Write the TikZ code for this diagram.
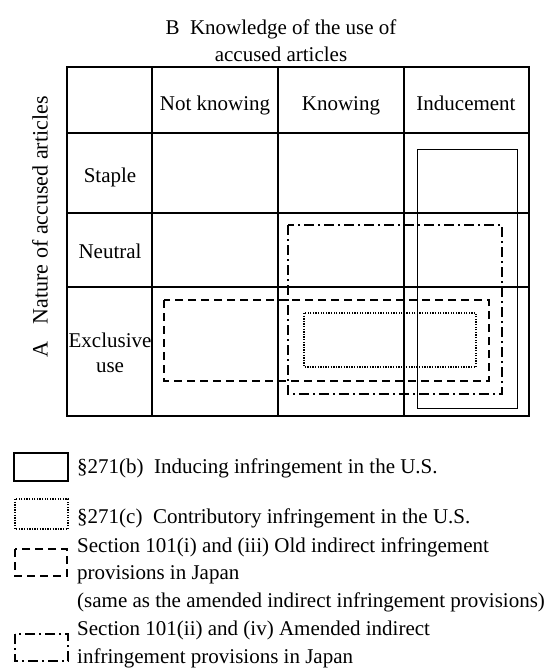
\documentclass[tikz,border=0pt]{standalone}
\usepackage{fontspec}
\setmainfont{Liberation Serif}
\begin{document}
\begin{tikzpicture}[x=1pt,y=-1pt,
  font=\fontsize{21}{25}\selectfont,
  grid/.style={line width=2.6pt, line cap=rect},
  txt/.style={inner sep=0pt, anchor=base},
  ltxt/.style={inner sep=0pt, anchor=base west},
  solidbox/.style={line width=1pt},
  dottedbox/.style={line width=1.3pt, dash pattern=on 1.3pt off 1.3pt},
  dashedbox/.style={line width=1.5pt, dash pattern=on 8pt off 5pt},
  dashdotbox/.style={line width=1.5pt, dash pattern=on 10pt off 4pt on 2pt off 4pt}]
\useasboundingbox (0,0) rectangle (546,669);
% title
\node[txt] (t1) at (281,35) {B\hspace{0.5em}Knowledge of the use of};
\node[txt] (t2) at (281,62) {accused articles};
\node[rotate=90, inner sep=0pt, font=\fontsize{22}{26}\selectfont] (va) at (40,227) {A\hspace{0.8em}Nature of accused articles};
% grid
\draw[grid] (67,67) rectangle (529,416);
\draw[grid] (152,67) -- (152,416);
\draw[grid] (278,67) -- (278,416);
\draw[grid] (404,67) -- (404,416);
\draw[grid] (67,133) -- (529,133);
\draw[grid] (67,213) -- (529,213);
\draw[grid] (67,287) -- (529,287);
% headers
\node[txt] (h1) at (215,110) {Not knowing};
\node[txt] (h2) at (341,110) {Knowing};
\node[txt] (h3) at (466,110) {Inducement};
\node[txt] (r1) at (110,182) {Staple};
\node[txt] (r2) at (110,258) {Neutral};
\node[txt] (r3a) at (110,347) {Exclusive};
\node[txt] (r3b) at (110,372) {use};
% regions
\draw[solidbox] (417,149) rectangle (517,408);
\draw[dashdotbox] (288,225) rectangle (502,394);
\draw[dashedbox] (164,300) rectangle (489,381);
\draw[dottedbox] (304,313) rectangle (476,367);
% legend
\draw[solidbox, line width=1.5pt] (14,453) rectangle (68,481);
\draw[dottedbox] (15,499) rectangle (68,529);
\draw[dashedbox] (15,549) rectangle (67,576);
\draw[dashdotbox] (15,634) rectangle (68,661);
\node[ltxt] (l1) at (77,473) {§271(b)\hspace{0.5em}Inducing infringement in the U.S.};
\node[ltxt] (l2) at (77,523) {§271(c)\hspace{0.5em}Contributory infringement in the U.S.};
\node[ltxt] (l3) at (77,552) {Section 101(i) and (iii) Old indirect infringement};
\node[ltxt] (l4) at (77,579) {provisions in Japan};
\node[ltxt] (l5) at (77,607) {(same as the amended indirect infringement provisions)};
\node[ltxt] (l6) at (77,635) {Section 101(ii) and (iv) Amended indirect};
\node[ltxt] (l7) at (77,663) {infringement provisions in Japan};
\end{tikzpicture}
\end{document}
